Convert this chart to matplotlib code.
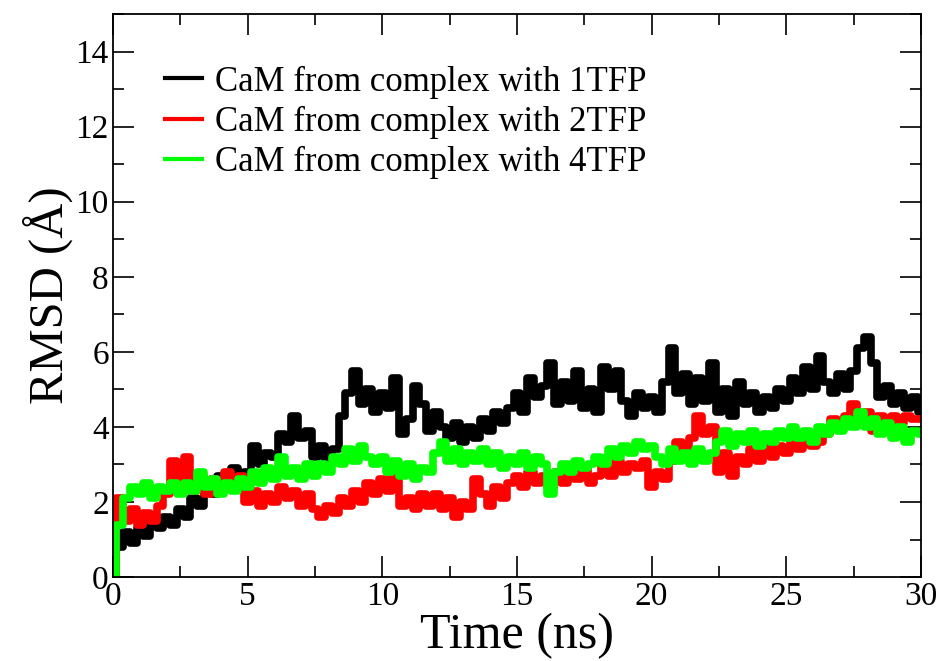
import numpy as np
import matplotlib
matplotlib.use("Agg")
import matplotlib.pyplot as plt
from matplotlib.ticker import MultipleLocator

# time axis, one value every 0.25 ns
time_ns = np.arange(0, 30.01, 0.25)

rmsd_1tfp = [
    0.0, 0.8, 1.2, 0.9, 1.3, 1.1, 1.5, 1.3, 1.6, 1.4,
    1.8, 1.6, 2.1, 1.9, 2.4, 2.2, 2.7, 2.5, 2.9, 2.6,
    2.8, 3.5, 3.0, 3.3, 3.2, 3.8, 3.6, 4.3, 3.7, 3.9,
    3.2, 3.5, 3.1, 3.4, 4.3, 4.9, 5.5, 4.6, 5.0, 4.4,
    4.9, 4.5, 5.3, 3.8, 4.2, 5.1, 4.6, 3.9, 4.4, 4.0,
    3.7, 4.1, 3.6, 4.0, 3.7, 4.2, 3.9, 4.4, 4.1, 4.5,
    4.9, 4.4, 5.3, 4.8, 5.1, 5.7, 4.6, 5.2, 4.7, 5.5,
    4.5, 5.0, 4.4, 5.6, 5.0, 5.5, 4.7, 4.3, 4.9, 4.5,
    4.8, 4.4, 5.2, 6.1, 4.9, 5.4, 4.6, 5.3, 4.7, 5.7,
    4.4, 5.0, 4.3, 5.2, 4.6, 4.9, 4.4, 4.8, 4.5, 5.0,
    4.7, 5.3, 4.9, 5.6, 5.0, 5.9, 5.2, 4.9, 5.4, 5.0,
    5.5, 6.1, 6.4, 5.7, 4.8, 5.1, 4.6, 4.9, 4.5, 4.8,
    4.4,
]

rmsd_2tfp = [
    0.0, 2.1, 1.5, 1.8, 1.4, 1.7, 1.5, 1.9, 2.2, 3.1,
    2.4, 3.2, 2.3, 2.7, 2.2, 2.6, 2.3, 2.8, 2.4, 2.7,
    2.0, 2.3, 1.9, 2.2, 2.0, 2.4, 2.1, 2.3, 1.9, 2.2,
    1.8, 1.6, 1.9, 1.7, 2.1, 1.9, 2.3, 2.0, 2.5, 2.2,
    2.6, 2.3, 2.7, 1.9, 2.1, 1.8, 2.2, 1.9, 2.2, 1.8,
    2.1, 1.6, 2.0, 1.8, 2.6, 2.2, 1.9, 2.4, 2.1, 2.5,
    2.7, 2.4, 2.8, 2.5, 2.7, 2.4, 2.8, 2.5, 2.8, 2.6,
    2.9, 2.5, 2.7, 3.0, 2.7, 3.1, 2.8, 3.0, 2.9, 3.1,
    2.4, 2.8, 2.6, 3.1, 3.6, 3.3, 3.7, 4.3, 3.8, 4.0,
    2.8, 3.3, 2.7, 3.2, 3.0, 3.4, 3.1, 3.5, 3.2, 3.5,
    3.3, 3.6, 3.4, 3.7, 3.5, 3.6, 3.8, 4.2, 4.0, 4.3,
    4.6, 4.1, 4.4, 3.9, 4.3, 4.0, 4.3, 4.1, 4.3, 4.2,
    4.2,
]

rmsd_4tfp = [
    0.0, 1.4, 2.1, 2.4, 2.2, 2.5, 2.1, 2.4, 2.3, 2.5,
    2.2, 2.5, 2.3, 2.8, 2.4, 2.6, 2.2, 2.5, 2.3, 2.6,
    2.4, 2.8, 2.5, 2.9, 2.6, 3.2, 2.7, 2.9, 2.6, 3.0,
    2.7, 3.0, 2.8, 3.2, 3.0, 3.4, 3.1, 3.5, 3.2, 3.0,
    3.2, 2.8, 3.1, 2.7, 3.0, 2.6, 2.9, 2.8, 3.3, 3.6,
    3.1, 3.4, 3.0, 3.3, 3.1, 3.4, 3.0, 3.3, 2.9, 3.2,
    3.0, 3.3, 2.9, 3.2, 3.0, 2.2, 2.8, 3.0, 2.8, 3.1,
    2.9, 3.0, 3.2, 3.0, 3.4, 3.2, 3.5, 3.3, 3.6, 3.4,
    3.5, 3.2, 3.0, 3.4, 3.1, 3.3, 3.0, 3.4, 3.1, 3.3,
    3.6, 3.9, 3.5, 3.8, 3.6, 3.9, 3.5, 3.8, 3.6, 3.9,
    3.7, 4.0, 3.7, 3.9, 3.6, 4.0, 3.8, 4.1, 3.9, 4.2,
    4.0, 4.4, 4.0, 4.2, 3.8, 4.1, 3.7, 4.0, 3.6, 3.9,
    3.8,
]

labels = ["CaM from complex with 1TFP",
          "CaM from complex with 2TFP",
          "CaM from complex with 4TFP"]
colors = ["#000000", "#ff0000", "#00ff00"]

plt.rcParams["font.family"] = ["Liberation Serif", "DejaVu Serif"]

fig = plt.figure(figsize=(9.43, 6.61), dpi=100)
ax = fig.add_axes([0.1198, 0.127, 0.8569, 0.8518])

for series, lab, col in zip([rmsd_1tfp, rmsd_2tfp, rmsd_4tfp], labels, colors):
    ax.plot(time_ns, series, color=col, lw=5.5, drawstyle="steps-mid", label=lab)

ax.set_xlim(0, 30)
ax.set_ylim(0, 15)
ax.xaxis.set_major_locator(MultipleLocator(5))
ax.xaxis.set_minor_locator(MultipleLocator(2.5))
ax.yaxis.set_major_locator(MultipleLocator(2))
ax.yaxis.set_minor_locator(MultipleLocator(1))
ax.set_yticks([0, 2, 4, 6, 8, 10, 12, 14])
ax.tick_params(which="both", direction="in", top=True, right=True, labelsize=24, width=1.2)
ax.tick_params(which="major", length=15, pad=3)
ax.tick_params(which="minor", length=8)
for sp in ax.spines.values():
    sp.set_linewidth(1.3)

ax.set_xlabel("Time (ns)", fontsize=36, labelpad=1)
ax.set_ylabel("RMSD (Å)", fontsize=35, labelpad=2)

leg = ax.legend(loc="upper left", bbox_to_anchor=(0.026, 0.964), frameon=False,
                fontsize=25, handlelength=1.05, handletextpad=0.37, labelspacing=0.2)
for h in leg.get_lines():
    h.set_linewidth(3)

fig.savefig("out.png", dpi=100)
